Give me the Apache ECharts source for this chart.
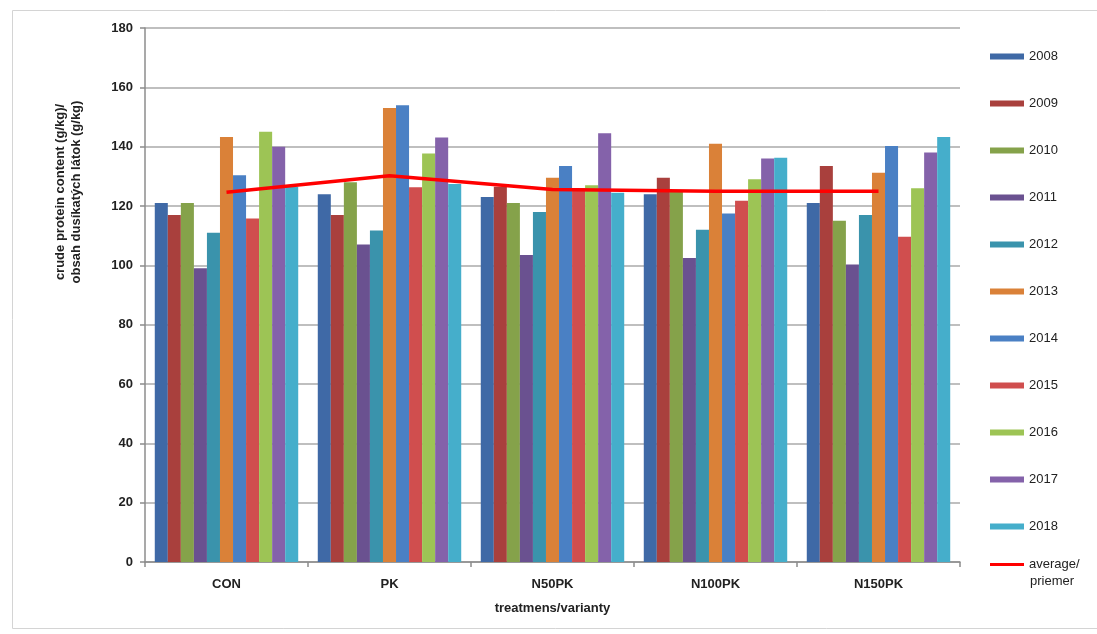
<!DOCTYPE html>
<html>
<head>
<meta charset="utf-8">
<script src="https://cdn.jsdelivr.net/npm/echarts@6/dist/echarts.min.js"></script>
<style>html,body{margin:0;padding:0;background:#fff}#c{width:1097px;height:634px}</style>
</head>
<body>
<div id="c"></div>
<script>
var categories = ['CON', 'PK', 'N50PK', 'N100PK', 'N150PK'];
var years = ['2008','2009','2010','2011','2012','2013','2014','2015','2016','2017','2018'];
var v2008 = [121, 124, 123, 124, 121];
var v2009 = [117, 117, 126.5, 129.5, 133.5];
var v2010 = [121, 128, 121, 125, 115];
var v2011 = [99, 107, 103.5, 102.5, 100.3];
var v2012 = [111, 111.7, 118, 112, 117];
var v2013 = [143.3, 153, 129.5, 141, 131.2];
var v2014 = [130.4, 154, 133.5, 117.5, 140.2];
var v2015 = [115.8, 126.3, 126, 121.8, 109.6];
var v2016 = [145, 137.7, 127, 129, 126];
var v2017 = [140, 143.1, 144.5, 136, 138];
var v2018 = [126.5, 127.4, 124.5, 136.3, 143.3];
var average = [124.6, 130.2, 125.6, 125, 125];
var averageName = 'average/priemer';
var yTicks = { min: 0, max: 180, interval: 20 };

var seriesValues = [v2008, v2009, v2010, v2011, v2012, v2013, v2014, v2015, v2016, v2017, v2018];
var colors = ['#3F69A6', '#A9403D', '#85A24A', '#6A5190', '#3A93AC', '#DA8138', '#4A80C4', '#D04E4E', '#9DC455', '#8462AA', '#45AECB'];
var font = 'Liberation Sans, Arial, sans-serif';

var series = years.map(function (y, i) {
  return {
    name: y, type: 'bar', data: seriesValues[i],
    barGap: '0%', barCategoryGap: '12%',
    itemStyle: { color: colors[i] }
  };
});
series.push({
  name: averageName, type: 'line', data: average, symbol: 'none',
  lineStyle: { color: '#FF0000', width: 3.5 }, itemStyle: { color: '#FF0000' }, z: 5
});

var chart = echarts.init(document.getElementById('c'));
chart.setOption({
  animation: false,
  backgroundColor: '#fff',
  textStyle: { fontFamily: font },
  grid: { left: 145, right: 137, top: 28, bottom: 72 },
  legend: [{
    orient: 'vertical', left: 985, top: 45, itemGap: 34,
    itemWidth: 34, itemHeight: 6, icon: 'rect',
    textStyle: { fontSize: 13, color: '#222', fontFamily: font },
    data: years
  }, {
    orient: 'vertical', left: 985, top: 553, itemWidth: 34, itemHeight: 3, icon: 'rect',
    textStyle: { fontSize: 13, color: '#222', fontFamily: font },
    formatter: function () { return 'average/'; },
    data: [{ name: averageName, icon: 'rect' }]
  }],
  xAxis: {
    type: 'category', data: categories,
    name: 'treatmens/varianty', nameLocation: 'middle', nameGap: 40,
    nameTextStyle: { fontSize: 13, fontWeight: 'bold', color: '#222' },
    axisLine: { lineStyle: { color: '#8c8c8c', width: 1.5 } },
    axisTick: { show: true, length: 5, lineStyle: { color: '#8c8c8c', width: 1.5 } },
    axisLabel: { fontSize: 13, fontWeight: 'bold', color: '#222', margin: 16 }
  },
  yAxis: {
    type: 'value', min: yTicks.min, max: yTicks.max, interval: yTicks.interval,
    axisLine: { show: true, lineStyle: { color: '#8c8c8c', width: 1.5 } },
    axisTick: { show: true, length: 5, lineStyle: { color: '#8c8c8c', width: 1.5 } },
    axisLabel: { fontSize: 13, fontWeight: 'bold', color: '#222', margin: 12 },
    splitLine: { lineStyle: { color: '#aaaaaa', width: 1.6 } }
  },
  graphic: [{
    type: 'rect', left: 10, top: 8, z: -10,
    shape: { width: 1090, height: 618 },
    style: { fill: 'none', stroke: '#d4d4d4', lineWidth: 1 }
  }, {
    type: 'text', x: 1030, y: 581,
    style: { text: 'priemer', fontSize: 13, fill: '#222', fontFamily: font, align: 'left', verticalAlign: 'middle' }
  }, {
    type: 'text', x: 68, y: 192, rotation: Math.PI / 2,
    style: {
      text: 'crude protein content (g/kg)/\nobsah dusíkatých látok (g/kg)',
      fontSize: 13, fontWeight: 'bold', fill: '#222', lineHeight: 16,
      align: 'center', verticalAlign: 'middle', fontFamily: font
    }
  }],
  series: series
});
</script>
</body>
</html>
